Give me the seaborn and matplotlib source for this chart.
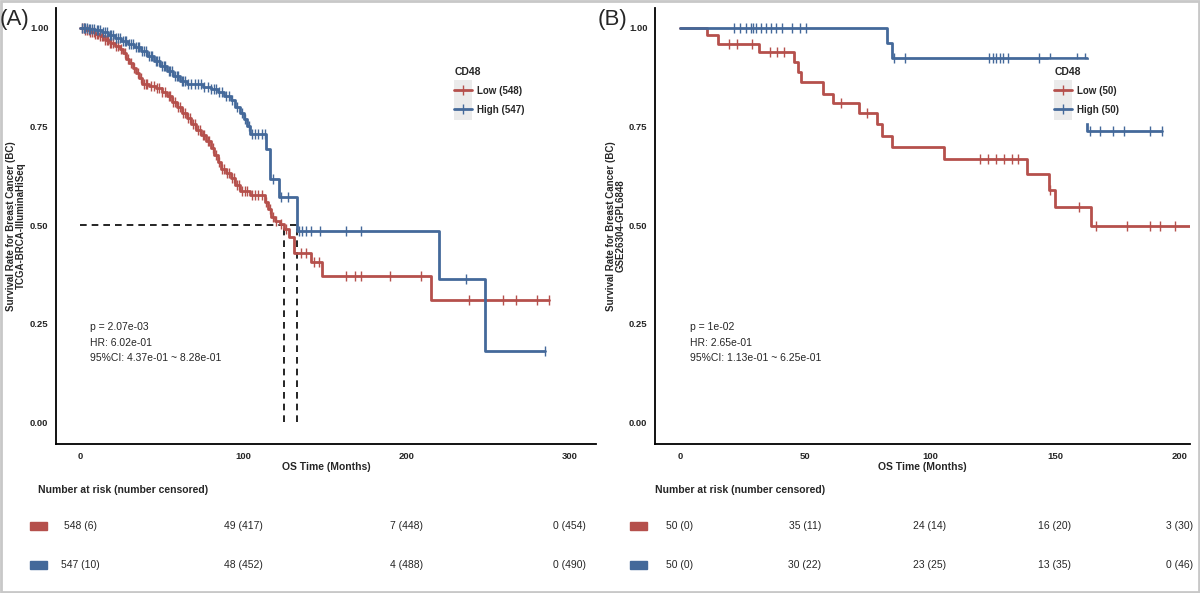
import numpy as np
import pandas as pd
import matplotlib
matplotlib.use("Agg")
import matplotlib.pyplot as plt
import matplotlib.transforms as mtransforms
from matplotlib.lines import Line2D
from matplotlib.patches import Rectangle
from matplotlib.legend_handler import HandlerLine2D
import seaborn as sns

# ---------------- data ----------------
# Panel A: TCGA-BRCA-IlluminaHiSeq
a_low_t = [0, 3, 6, 9, 12, 15, 18, 21, 24, 26, 28, 30, 32, 34, 36, 38, 42, 46, 50, 53, 56, 59,
           62, 65, 68, 71, 74, 77, 80, 82, 84, 86, 89, 92, 95, 98, 104, 113, 115, 117, 119, 122,
           124.7, 128, 131, 141, 148, 215, 287]
a_low_s = [1.0, 0.995, 0.99, 0.985, 0.978, 0.97, 0.962, 0.954, 0.945, 0.935, 0.922, 0.91, 0.897,
           0.884, 0.872, 0.858, 0.852, 0.846, 0.838, 0.826, 0.812, 0.798, 0.784, 0.77, 0.756, 0.742,
           0.728, 0.712, 0.696, 0.678, 0.66, 0.643, 0.632, 0.618, 0.602, 0.586, 0.575, 0.558, 0.54,
           0.52, 0.51, 0.503, 0.49, 0.469, 0.43, 0.406, 0.371, 0.31, 0.31]
a_high_t = [0, 5, 9, 13, 17, 21, 25, 29, 33, 37, 41, 45, 49, 53, 57, 61, 65, 75, 80, 84, 88, 92,
            95, 98, 100, 102, 104, 114, 116, 121.5, 132.5, 220, 248, 285]
a_high_s = [1.0, 0.997, 0.993, 0.988, 0.982, 0.974, 0.966, 0.958, 0.95, 0.94, 0.928, 0.916, 0.903,
            0.89, 0.877, 0.864, 0.858, 0.851, 0.845, 0.836, 0.826, 0.818, 0.8, 0.785, 0.768, 0.752,
            0.73, 0.693, 0.617, 0.572, 0.484, 0.362, 0.18, 0.18]
a_low_cens = [1, 2, 3, 4, 5, 6, 7, 8, 9, 10, 11, 12, 13, 14, 15, 16, 17, 18, 19, 20, 22, 23, 25,
              27, 29, 31, 33, 35, 37, 39, 40, 41, 43, 45, 47, 48, 50, 52, 54, 55, 57, 58, 60, 61,
              63, 64, 66, 67, 69, 70, 72, 73, 75, 76, 78, 79, 81, 83, 85, 87, 88, 90, 91, 93, 94,
              96, 97, 99, 101, 102, 105, 107, 109, 111, 114, 116, 118, 120, 123, 126, 135, 138,
              143, 146, 163, 168, 172, 190, 209, 238, 259, 267, 280, 287]
a_high_cens = [1, 2, 3, 4, 5, 6, 7, 8, 10, 11, 12, 14, 15, 16, 18, 19, 20, 22, 23, 24, 26, 27, 28,
               30, 31, 32, 34, 35, 36, 38, 39, 40, 42, 43, 44, 46, 47, 48, 50, 51, 52, 54, 55, 56,
               58, 59, 60, 62, 63, 64, 66, 68, 70, 72, 74, 76, 78, 80, 82, 83, 85, 87, 89, 91, 93,
               96, 99, 101, 103, 105, 107, 109, 111, 113, 118, 123, 127, 134, 136, 138, 141, 147,
               163, 172, 236.5, 285]
a_median = [124.7, 132.7]
a_stats = ["p = 2.07e-03", "HR: 6.02e-01", "95%CI: 4.37e-01 ~ 8.28e-01"]
a_labels = ["Low (548)", "High (547)"]
a_risk_t = [0, 100, 200, 300]
a_risk_low = ["548 (6)", "49 (417)", "7 (448)", "0 (454)"]
a_risk_high = ["547 (10)", "48 (452)", "4 (488)", "0 (490)"]

# Panel B: GSE26304-GPL6848
b_low_t = [0, 11, 15.4, 31.8, 45.7, 47.2, 48.3, 57.2, 61.4, 71.4, 79, 81, 85, 105.4, 138.8, 147.7,
           150, 164.5, 205]
b_low_s = [1.0, 0.982, 0.96, 0.939, 0.913, 0.888, 0.863, 0.833, 0.81, 0.783, 0.755, 0.726, 0.697,
           0.667, 0.629, 0.588, 0.545, 0.498, 0.498]
b_high_t = [0, 83, 85, 162.6, 192.6]
b_high_s = [1.0, 0.961, 0.924, 0.739, 0.739]
b_low_cens = [19.5, 23, 28.8, 36, 39, 41.5, 64.5, 75, 120, 123, 126.5, 129.5, 132.6, 135, 148,
              159.5, 166.5, 178.8, 188, 191.8, 198, 205]
b_high_cens = [21.5, 24, 26.5, 28.3, 29.2, 30.3, 32.3, 34.5, 36.5, 38.5, 41, 45, 48, 50.3, 85.7,
               90, 123.4, 125, 126.5, 128, 129.2, 131, 143.4, 148, 158.8, 162, 164, 168, 173,
               177.5, 188, 192.6]
b_stats = ["p = 1e-02", "HR: 2.65e-01", "95%CI: 1.13e-01 ~ 6.25e-01"]
b_labels = ["Low (50)", "High (50)"]
b_risk_t = [0, 50, 100, 150, 200]
b_risk_low = ["50 (0)", "35 (11)", "24 (14)", "16 (20)", "3 (30)"]
b_risk_high = ["50 (0)", "30 (22)", "23 (25)", "13 (35)", "0 (46)"]

RED = "#B5504C"
BLUE = "#44699A"
FONT = ["Liberation Sans", "DejaVu Sans"]

sns.set_style("white")
plt.rcParams["font.family"] = FONT

W, H = 1200, 593
fig = plt.figure(figsize=(12, 5.93), dpi=100)


def fx(px):
    return px / W


def fy(py):
    return 1 - py / H


def step_value(times, surv, t):
    idx = np.searchsorted(times, t, side="right") - 1
    return np.asarray(surv)[idx]


class GreyKey(HandlerLine2D):
    # ggplot style legend key: grey box behind the line
    def create_artists(self, legend, orig_handle, xdescent, ydescent, width, height,
                       fontsize, trans):
        arts = super().create_artists(legend, orig_handle, xdescent, ydescent, width, height,
                                      fontsize, trans)
        pad = fontsize * 0.75
        box = Rectangle((-xdescent, -ydescent - pad), width, height + 2 * pad,
                        facecolor="#EBEBEB", edgecolor="none", transform=trans)
        return [box] + list(arts)


def km_panel(ax, curves, xlim, xticks, ylab, stats, stat_x, labels, legend_px, median=None):
    for t, s, cens, c in curves:
        df = pd.DataFrame({"time": t, "surv": s})
        sns.lineplot(data=df, x="time", y="surv", ax=ax, color=c, lw=2.0,
                     drawstyle="steps-post", estimator=None, legend=False, zorder=3)
        cdf = pd.DataFrame({"time": cens, "surv": step_value(t, s, cens)})
        sns.scatterplot(data=cdf, x="time", y="surv", ax=ax, color=c, marker="|",
                        s=45, linewidth=1.0, legend=False, zorder=3)
    if median is not None:
        ax.plot([0, median[1]], [0.5, 0.5], ls=(0, (4, 3)), color="black", lw=1.2, zorder=2)
        for m in median:
            ax.plot([m, m], [0, 0.5], ls=(0, (4, 3)), color="black", lw=1.2, zorder=2)

    ax.set_xlim(*xlim)
    ax.set_ylim(-0.055, 1.05)
    ax.set_xticks(xticks)
    ax.set_yticks([0, 0.25, 0.5, 0.75, 1.0])
    ax.set_yticklabels(["0.00", "0.25", "0.50", "0.75", "1.00"])
    for sp in ["top", "right"]:
        ax.spines[sp].set_visible(False)
    for sp in ["left", "bottom"]:
        ax.spines[sp].set_color("black")
        ax.spines[sp].set_linewidth(1.3)
    ax.tick_params(axis="both", length=3, width=1, color="black", labelsize=6.8, pad=2.5)
    for lab in ax.get_xticklabels() + ax.get_yticklabels():
        lab.set_fontweight("bold")
    ax.set_xlabel("OS Time (Months)", fontsize=7.5, fontweight="bold", labelpad=1)
    ax.set_ylabel(ylab, fontsize=7, fontweight="bold", linespacing=1.0)
    ax.yaxis.set_label_coords(-0.055, 0.5)

    for txt, yy in zip(stats, [0.242, 0.202, 0.162]):
        ax.text(stat_x, yy, txt, fontsize=7.5, va="center", ha="left")

    handles = [Line2D([], [], color=c, lw=2, marker="|", ms=7, mew=1) for c in (RED, BLUE)]
    leg = ax.legend(handles, labels, title="CD48", loc="upper left",
                    bbox_to_anchor=(fx(legend_px[0]), fy(legend_px[1])),
                    bbox_transform=fig.transFigure, frameon=True, facecolor="white",
                    edgecolor="white", framealpha=1, prop={"weight": "bold", "size": 7},
                    title_fontproperties={"weight": "bold", "size": 7.5}, alignment="left",
                    handlelength=1.8, handletextpad=0.6, labelspacing=0.9, borderpad=0.75,
                    handler_map={Line2D: GreyKey()})
    leg.set_zorder(5)


def risk_table(ax, times, low, high, left_px, patch_px):
    fig.text(fx(left_px), fy(490), "Number at risk (number censored)", fontsize=7.5,
             fontweight="bold", va="center", ha="left")
    tr = mtransforms.blended_transform_factory(ax.transData, fig.transFigure)
    for vals, ypx, c in [(low, 526, RED), (high, 565, BLUE)]:
        fig.patches.append(Rectangle((fx(patch_px), fy(ypx + 4)), fx(17), 8 / H,
                                     transform=fig.transFigure, color=c, figure=fig))
        for t, v in zip(times, vals):
            ax.text(t, fy(ypx), v, transform=tr, fontsize=7.5, ha="center", va="center",
                    clip_on=False)


ax_a = fig.add_axes([fx(56), fy(444), fx(540), fy(8) - fy(444)])
km_panel(ax_a, [(a_low_t, a_low_s, a_low_cens, RED), (a_high_t, a_high_s, a_high_cens, BLUE)],
         (-15, 316), [0, 100, 200, 300],
         "Survival Rate for Breast Cancer (BC)\nTCGA-BRCA-IlluminaHiSeq",
         a_stats, 6, a_labels, (442, 55), median=a_median)
risk_table(ax_a, a_risk_t, a_risk_low, a_risk_high, 38, 30)

ax_b = fig.add_axes([fx(655), fy(444), fx(535), fy(8) - fy(444)])
km_panel(ax_b, [(b_low_t, b_low_s, b_low_cens, RED), (b_high_t, b_high_s, b_high_cens, BLUE)],
         (-10, 204), [0, 50, 100, 150, 200],
         "Survival Rate for Breast Cancer (BC)\nGSE26304-GPL6848",
         b_stats, 4, b_labels, (1042, 55))
risk_table(ax_b, b_risk_t, b_risk_low, b_risk_high, 655, 630)

fig.text(fx(0), fy(19), "(A)", fontsize=16, va="center", ha="left")
fig.text(fx(598), fy(19), "(B)", fontsize=16, va="center", ha="left")

# light grey frame of the original screenshot
fig.patches.append(Rectangle((0.001, 0.002), 0.998, 0.996, transform=fig.transFigure,
                             fill=False, edgecolor="#C8C8C8", lw=2, figure=fig))

fig.savefig("out.png", dpi=100)
